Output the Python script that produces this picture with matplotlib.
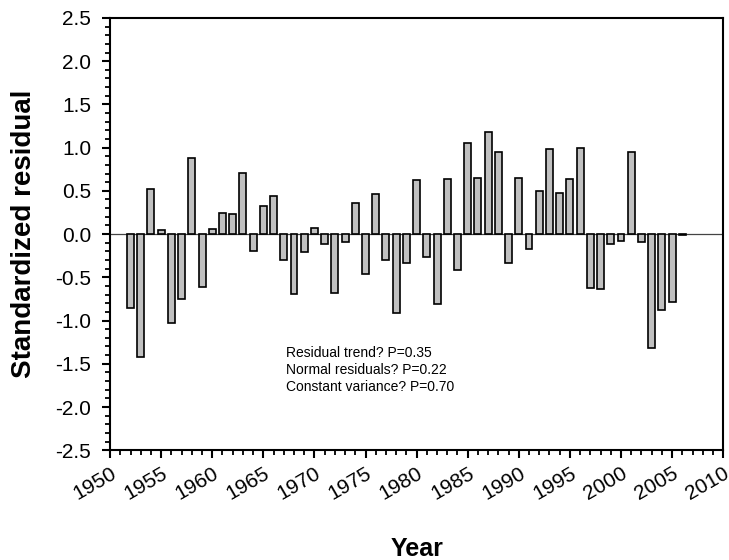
import matplotlib
matplotlib.use("Agg")
import matplotlib.pyplot as plt
from matplotlib.ticker import MultipleLocator, FormatStrFormatter

plt.rcParams['font.family'] = ['Liberation Sans', 'DejaVu Sans']

# standardized residuals by year
years = list(range(1952, 2007))
resid = [-0.85, -1.42, 0.52, 0.05, -1.03, -0.75, 0.88, -0.61, 0.06, 0.24,
         0.23, 0.71, -0.19, 0.32, 0.44, -0.30, -0.69, -0.21, 0.07, -0.12,
         -0.68, -0.09, 0.36, -0.46, 0.46, -0.30, -0.91, -0.33, 0.62, -0.26,
         -0.81, 0.64, -0.42, 1.05, 0.65, 1.18, 0.95, -0.34, 0.65, -0.17,
         0.50, 0.98, 0.48, 0.64, 1.00, -0.62, -0.63, -0.11, -0.08, 0.95,
         -0.09, -1.32, -0.88, -0.78, -0.01]

notes = ["Residual trend? P=0.35",
         "Normal residuals? P=0.22",
         "Constant variance? P=0.70"]

fig = plt.figure(figsize=(7.29, 5.6), dpi=100)
ax = fig.add_axes([0.151, 0.196, 0.841, 0.772])

ax.axhline(0, color='#444444', lw=0.9, zorder=1)
ax.bar(years, resid, width=0.68, color='#c0c0c0', edgecolor='black', lw=1.2, zorder=2)

ax.set_xlim(1950, 2010)
ax.set_ylim(-2.5, 2.5)
ax.xaxis.set_major_locator(MultipleLocator(5))
ax.xaxis.set_minor_locator(MultipleLocator(1))
ax.yaxis.set_major_locator(MultipleLocator(0.5))
ax.yaxis.set_minor_locator(MultipleLocator(0.1))
ax.yaxis.set_major_formatter(FormatStrFormatter('%.1f'))

ax.tick_params(which='major', direction='out', length=5.5, width=1.5, labelsize=15)
ax.tick_params(which='minor', direction='out', length=3.5, width=1.3)
ax.tick_params(axis='y', which='major', pad=8)
ax.tick_params(axis='x', which='major', pad=4)
for s in ax.spines.values():
    s.set_linewidth(1.5)

for lab in ax.get_xticklabels():
    lab.set_rotation(30)
    lab.set_ha('right')
    lab.set_rotation_mode('anchor')

ax.set_xlabel("Year", fontsize=18, fontweight='bold', labelpad=24)
ax.set_ylabel("Standardized residual", fontsize=20, fontweight='bold', labelpad=13)

ax.text(1967.2, -1.3, "\n".join(notes), fontsize=10, va='top', ha='left', linespacing=1.25)

fig.savefig("out.png", dpi=100)
